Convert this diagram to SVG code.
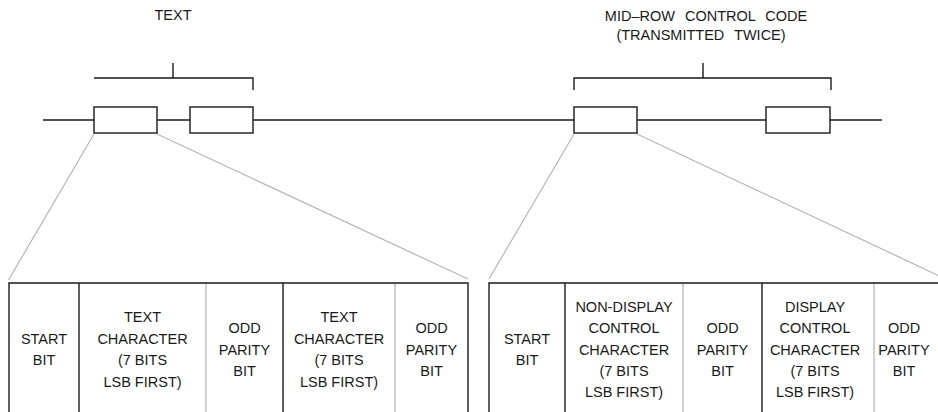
<svg xmlns="http://www.w3.org/2000/svg" width="938" height="412" viewBox="0 0 938 412">
<style>
  .ln{stroke:#1a1a1a;stroke-width:1.4;fill:none}
  .bx{stroke:#1a1a1a;stroke-width:1.4;fill:#fff}
  .gy{stroke:#b5b5b5;stroke-width:1.2;fill:none}
  .gd{stroke:#bdbdbd;stroke-width:1.4;fill:none}
  text{font-family:"Liberation Sans",Arial,sans-serif;font-size:14.5px;fill:#1a1a1a;text-anchor:middle}
  .ttl{word-spacing:6px}
</style>
<rect width="938" height="412" fill="#fff"/>
<g id="titles">
  <text x="173" y="20">TEXT</text>
  <text class="ttl" x="706" y="21">MID–ROW CONTROL CODE</text>
  <text class="ttl" x="701" y="40">(TRANSMITTED TWICE)</text>
</g>
<g id="connectors">
  <path class="ln" d="M43 120H882"/>
  <path class="ln" d="M94 78H253V90M173 63V78"/>
  <path class="ln" d="M574 90V78H831V90M703 63V78"/>
  <path class="gy" d="M94 134L8.5 280M157 134L468 279"/>
  <path class="gy" d="M574 134L489 279M637 134L948 280"/>
</g>
<g id="box-text-1"><rect class="bx" x="94" y="107" width="63" height="26"/></g>
<g id="box-text-2"><rect class="bx" x="190" y="107" width="63" height="26"/></g>
<g id="box-ctrl-1"><rect class="bx" x="574" y="107" width="63" height="26"/></g>
<g id="box-ctrl-2"><rect class="bx" x="766" y="107" width="64" height="26"/></g>
<g id="table-text">
  <path class="ln" d="M9 412V283H468V412M79 283V412M283 283V412"/>
  <path class="gd" d="M206 284V412M395 284V412"/>
  <text x="44" y="343.8">START</text>
  <text x="44" y="365.2">BIT</text>
  <text x="142.5" y="322.4">TEXT</text>
  <text x="142.5" y="343.8">CHARACTER</text>
  <text x="142.5" y="365.2">(7 BITS</text>
  <text x="142.5" y="386.6">LSB FIRST)</text>
  <text x="244.5" y="333.1">ODD</text>
  <text x="244.5" y="354.5">PARITY</text>
  <text x="244.5" y="375.9">BIT</text>
  <text x="339" y="322.4">TEXT</text>
  <text x="339" y="343.8">CHARACTER</text>
  <text x="339" y="365.2">(7 BITS</text>
  <text x="339" y="386.6">LSB FIRST)</text>
  <text x="431.5" y="333.1">ODD</text>
  <text x="431.5" y="354.5">PARITY</text>
  <text x="431.5" y="375.9">BIT</text>
</g>
<g id="table-ctrl">
  <path class="ln" d="M489 412V283H938M565 283V412M762 283V412"/>
  <path class="gd" d="M683 284V412M874 284V412"/>
  <text x="527" y="343.8">START</text>
  <text x="527" y="365.2">BIT</text>
  <text x="624" y="311.7">NON-DISPLAY</text>
  <text x="624" y="333.1">CONTROL</text>
  <text x="624" y="354.5">CHARACTER</text>
  <text x="624" y="375.9">(7 BITS</text>
  <text x="624" y="397.3">LSB FIRST)</text>
  <text x="722.5" y="333.1">ODD</text>
  <text x="722.5" y="354.5">PARITY</text>
  <text x="722.5" y="375.9">BIT</text>
  <text x="815" y="311.7">DISPLAY</text>
  <text x="815" y="333.1">CONTROL</text>
  <text x="815" y="354.5">CHARACTER</text>
  <text x="815" y="375.9">(7 BITS</text>
  <text x="815" y="397.3">LSB FIRST)</text>
  <text x="904" y="333.1">ODD</text>
  <text x="904" y="354.5">PARITY</text>
  <text x="904" y="375.9">BIT</text>
</g>
</svg>
